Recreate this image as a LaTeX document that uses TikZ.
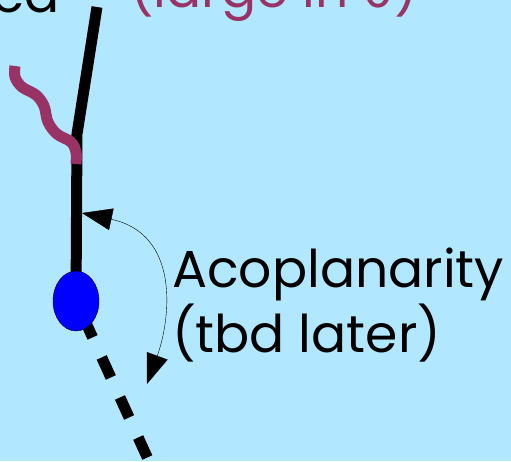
\documentclass[tikz,border=0pt]{standalone}
\usepackage{fontspec}
\setmainfont{Poppins}
\newfontfamily\greekfont{DejaVu Sans}
\usepackage{xcolor}
\usetikzlibrary{arrows.meta, shapes.geometric, positioning, calc}
\definecolor{skyback}{RGB}{178,232,255}
\definecolor{photonpurple}{RGB}{153,51,102}

\begin{document}
\begin{tikzpicture}[
        x=1pt, y=-1pt,
        >={Triangle[length=30pt, width=22pt]},
        track/.style={line width=11pt, black},
        photon/.style={line width=11pt, photonpurple},
        note/.style={inner sep=0pt, font=\fontsize{52}{62}\selectfont}
    ]

        % Background and frame
        \fill[skyback] (0,0) rectangle (511,461);
        \useasboundingbox (0,0) rectangle (511,461);
        \clip (0,0) rectangle (511,461);

        % Key points of the event
        \coordinate (trackend) at (97,7);
        \coordinate (kink) at (77,134);
        \coordinate (vtxc) at (76,301);
        \coordinate (muonout) at (153,470);
        \coordinate (armtop) at (82,213);
        \coordinate (armbot) at (147,384);

        % Incoming track with kink
        \draw[track, line join=round] (trackend) -- (kink) -- (vtxc);

        % Radiated photon (wavy)
        \draw[photon] plot[smooth, tension=0.6] coordinates {(15,66) (15,77) (22,87) (36,95) (44,106) (48,122) (57,134) (71,142) (76,152) (76,164)};

        % Outgoing track (dashed)
        \draw[track, dash pattern=on 22pt off 22pt, dash phase=26pt] (vtxc) -- (muonout);

        % Vertex
        \node[ellipse, draw=black, thin, fill=blue, minimum width=46pt, minimum height=60pt, inner sep=0pt] (vtx) at (vtxc) {};

        % Acoplanarity angle
        \draw[<->, thin] (armtop) .. controls (180,234) and (171,318) .. (armbot);

        % Labels
        \node[note, anchor=base west] (acop) at (172,287) {Acoplanarity};
        \node[note, anchor=base west] (tbd) at (172,352) {(tbd later)};
        \node[note, anchor=base east] (topword) at (60,12) {ed};
        \node[note, anchor=base west, text=photonpurple] (photonnote) at (130,7) {(large in {\greekfont θ})};

    \end{tikzpicture}
\end{document}
